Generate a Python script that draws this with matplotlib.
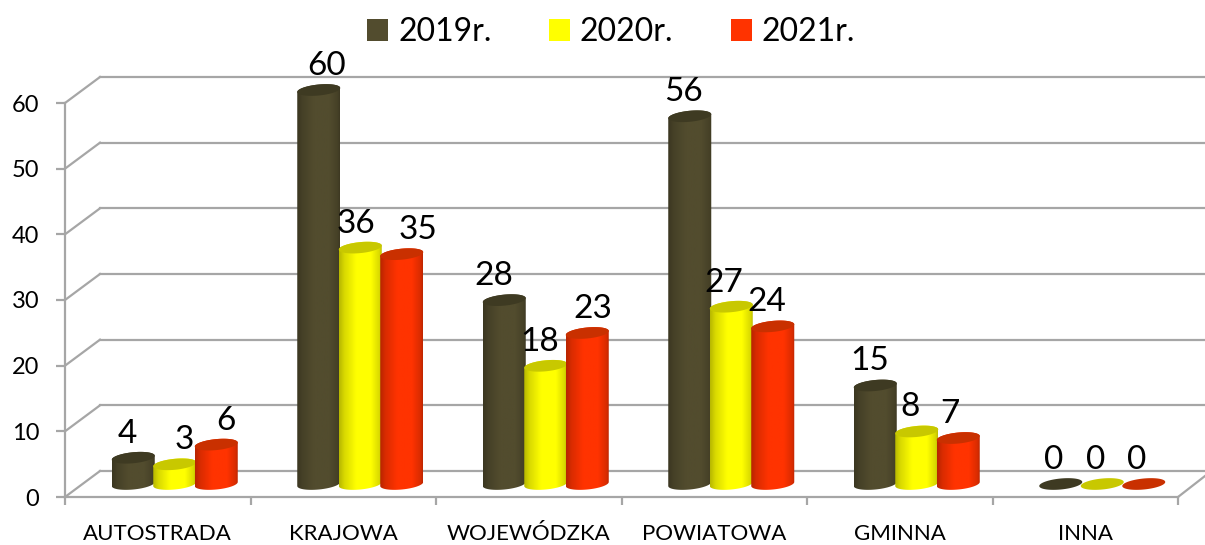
import numpy as np
import matplotlib
matplotlib.use('Agg')
import matplotlib.pyplot as plt
from matplotlib.patches import Patch, Polygon
from matplotlib.transforms import Affine2D

categories = ['AUTOSTRADA', 'KRAJOWA', 'WOJEWÓDZKA', 'POWIATOWA', 'GMINNA', 'INNA']
years = ['2019r.', '2020r.', '2021r.']
values_2019 = [4, 60, 28, 56, 15, 0]
values_2020 = [3, 36, 18, 27, 8, 0]
values_2021 = [6, 35, 23, 24, 7, 0]
yticks = [0, 10, 20, 30, 40, 50, 60]

# labels were placed by hand in the original, pixel shift from the bar centre
label_dx_2019 = [-6, 8, -10, -6, -6, -7]
label_dx_2020 = [10, -4, -6, -7, -7, -7]
label_dx_2021 = [10, 16, 6, -6, -8, -7]

body = ['#524c2e', '#ffff00', '#ff3300']
top = ['#3e3a22', '#c8c800', '#c93000']
grid = '#a6a6a6'

plt.rcParams['font.family'] = ['Lato', 'DejaVu Sans']

fig = plt.figure(figsize=(12.05, 5.45), dpi=100)
ax = fig.add_axes([65/1205, 48/545, 1113/1205, 394/545])
ax.set_xlim(0, 6)
ax.set_ylim(0, 60)

back = ax.transData + Affine2D().translate(35, 26)
bars = ax.transData + Affine2D().translate(17, 13)

# floor and walls
for v in yticks:
    ax.plot([0, 6.0], [v, v], color=grid, lw=1.6, transform=back, clip_on=False, zorder=1)
    x0, y0 = ax.transData.transform((0, v))
    ax.plot([x0, x0+35], [y0, y0+26], color=grid, lw=1.6, transform=None, clip_on=False, zorder=1)
x0, y0 = ax.transData.transform((6, 0))
ax.plot([x0, x0+27], [y0, y0+21], color=grid, lw=1.6, transform=None, clip_on=False, zorder=1)

for s in ['top', 'right']:
    ax.spines[s].set_visible(False)
for s in ['left', 'bottom']:
    ax.spines[s].set_color(grid)
    ax.spines[s].set_linewidth(1.6)

ax.set_yticks(yticks)
ax.tick_params(axis='y', length=6.5, width=1.6, color=grid, pad=12, labelsize=17)
ax.set_xticks(range(7))
ax.set_xticklabels([])
ax.set_xticks(np.arange(6)+0.5, categories, minor=True)
ax.tick_params(axis='x', which='major', length=6, width=1.6, color=grid)
ax.tick_params(axis='x', which='minor', length=0, pad=19.5, labelsize=16)

half = 21.5/(1113/6)
b = 5.5/(394/60)
tilt = 2/(394/60)
spacing = 41.5/(1113/6)
shade = np.interp(np.linspace(0, 1, 64), [0, 0.12, 0.4, 0.75, 0.95, 1], [0.72, 0.85, 1, 1, 0.85, 0.75])

series = [values_2019, values_2020, values_2021]
label_dx = [label_dx_2019, label_dx_2020, label_dx_2021]
z = 3
for i in range(len(categories)):
    for j in range(3):
        v = series[j][i]
        cx = i + 0.5 + (j-1)*spacing
        if v > 0:
            t1 = np.linspace(np.pi, 2*np.pi, 40)
            t2 = np.linspace(0, np.pi, 40)
            xs = np.r_[cx + half*np.cos(t1), cx + half*np.cos(t2)]
            ys = np.r_[b*np.sin(t1) + tilt*np.cos(t1), v + b*np.sin(t2) + tilt*np.cos(t2)]
            clip = Polygon(np.c_[xs, ys], closed=True, transform=bars, fill=False, edgecolor='none', clip_on=False)
            ax.add_patch(clip)
            rgb = np.array(matplotlib.colors.to_rgb(body[j]))
            img = (shade[:, None]*rgb)[None, :, :]
            im = ax.imshow(img, extent=[cx-half, cx+half, -2, v+2], aspect='auto', transform=bars,
                           zorder=z, interpolation='bilinear')
            im.set_clip_box(fig.bbox)
            im.set_clip_path(clip)
        t = np.linspace(0, 2*np.pi, 80)
        ell = Polygon(np.c_[cx + half*np.cos(t), v + b*np.sin(t) + tilt*np.cos(t)], closed=True,
                      transform=bars, facecolor=top[j], edgecolor='none', zorder=z+0.5, clip_on=False)
        ax.add_patch(ell)
        px, py = bars.transform((cx, v))
        ax.annotate(str(v), xy=(px + label_dx[j][i], py + 24), xycoords='figure pixels', ha='center',
                    va='center', fontsize=24, color='black', zorder=20, annotation_clip=False)
        z += 1

ax.set_xlim(0, 6)
ax.set_ylim(0, 60)

handles = [Patch(facecolor=c, edgecolor='none') for c in body]
fig.legend(handles, years, loc='center', bbox_to_anchor=(611/1205, 1-32/545), ncol=3, frameon=False,
           fontsize=23, handlelength=0.66, handleheight=0.66, handletextpad=0.3, columnspacing=1.8,
           borderpad=0)

fig.savefig('out.png', dpi=100)
